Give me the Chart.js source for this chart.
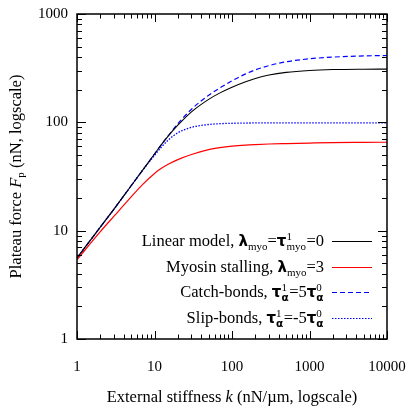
<!DOCTYPE html>
<html><head><meta charset="utf-8">
<script src="https://cdn.jsdelivr.net/npm/chart.js@4.4.1/dist/chart.umd.min.js"></script>
<style>html,body{margin:0;padding:0;background:#fff;}#wrap{width:412px;height:413px;}</style>
</head><body><div id="wrap"><canvas id="c" width="412" height="413"></canvas></div>
<script>
// External stiffness k (nN/µm)
const stiffness    = [1, 2, 3, 5, 7, 10, 12, 15, 20, 30, 50, 70, 100, 150, 200, 300, 500, 1000, 2000, 5000, 10000];
// Plateau force F_p (nN)
const linearModel  = [5.6, 10.8, 15.8, 26, 36, 51, 61, 74.5, 94, 125, 163, 187, 211, 237, 254, 273, 289, 301, 307, 309.5, 310];
const myosinStall  = [5.4, 9.8, 13.6, 20.5, 26.6, 33.7, 37.2, 41, 45.3, 50.5, 56, 58.4, 60.2, 61.6, 62.3, 63.1, 63.7, 64.4, 65, 65.3, 65.5];
const catchBonds   = [5.6, 10.8, 15.8, 26, 36, 51, 61, 75, 97, 132, 178, 208, 242, 280, 305, 334, 362, 386, 400, 410, 414];
const slipBonds    = [5.6, 10.8, 15.8, 26, 36, 49.5, 58, 68.5, 80, 90, 95.5, 97.2, 98, 98.5, 98.7, 98.8, 99, 99, 99, 99, 99];
const xMajorTicks  = [1, 10, 100, 1000, 10000];
const yMajorTicks  = [1, 10, 100, 1000];
const minorSteps   = [2, 3, 4, 5, 6, 7, 8, 9];

const SERIF = '"Liberation Serif", "Times New Roman", serif';
const S  = '16.5px ' + SERIF;
const SI = 'italic 16.5px ' + SERIF;
const s  = '11px ' + SERIF;
const G  = 'bold 15px "DejaVu Sans"';
const g  = 'bold 10.5px "DejaVu Sans"';

function pts(arr){ return stiffness.map((k,i)=>({x:k, y:arr[i]})); }

function partWidth(ctx, p){
  if (p.sup || p.sub){
    let w = 0;
    if (p.sup){ ctx.font = p.sup.f; w = Math.max(w, ctx.measureText(p.sup.t).width); }
    if (p.sub){ ctx.font = p.sub.f; w = Math.max(w, ctx.measureText(p.sub.t).width); }
    return w + 0.5;
  }
  ctx.font = p.f; return ctx.measureText(p.t).width;
}
function drawParts(ctx, parts, x, y){
  for (const p of parts){
    const w = partWidth(ctx, p);
    if (p.sup || p.sub){
      if (p.sup){ ctx.font = p.sup.f; ctx.fillText(p.sup.t, x, y - 6.5); }
      if (p.sub){ ctx.font = p.sub.f; ctx.fillText(p.sub.t, x, y + 4); }
    } else {
      ctx.font = p.f; ctx.fillText(p.t, x, y + (p.dy || 0));
    }
    x += w;
  }
}
function totalWidth(ctx, parts){ return parts.reduce((a,p)=>a+partWidth(ctx,p),0); }

const legendRows = [
  {parts:[{t:'Linear model, ',f:S},{t:'λ',f:G},{t:'myo',f:s,dy:4},{t:'=',f:S},{t:'τ',f:G},{sup:{t:'1',f:s},sub:{t:'myo',f:s}},{t:'=0',f:S}], color:'#000000', dash:[]},
  {parts:[{t:'Myosin stalling, ',f:S},{t:'λ',f:G},{t:'myo',f:s,dy:4},{t:'=3',f:S}], color:'#ff0000', dash:[]},
  {parts:[{t:'Catch-bonds, ',f:S},{t:'τ',f:G},{sup:{t:'1',f:s},sub:{t:'α',f:g}},{t:'=5',f:S},{t:'τ',f:G},{sup:{t:'0',f:s},sub:{t:'α',f:g}}], color:'#0000ff', dash:[5,3]},
  {parts:[{t:'Slip-bonds, ',f:S},{t:'τ',f:G},{sup:{t:'1',f:s},sub:{t:'α',f:g}},{t:'=-5',f:S},{t:'τ',f:G},{sup:{t:'0',f:s},sub:{t:'α',f:g}}], color:'#0000ff', dash:[1.5,1.5]}
];

const frame = {
  id:'frame',
  afterDraw(chart){
    const {ctx, chartArea:a, scales:{x, y}} = chart;
    ctx.save();
    ctx.strokeStyle = '#000'; ctx.lineWidth = 1; ctx.setLineDash([]);
    const tick = (px, horiz, len) => {
      ctx.beginPath();
      if (horiz){
        ctx.moveTo(px, a.bottom); ctx.lineTo(px, a.bottom - len);
        ctx.moveTo(px, a.top); ctx.lineTo(px, a.top + len);
      } else {
        ctx.moveTo(a.left, px); ctx.lineTo(a.left + len, px);
        ctx.moveTo(a.right, px); ctx.lineTo(a.right - len, px);
      }
      ctx.stroke();
    };
    for (const v of xMajorTicks){
      tick(Math.round(x.getPixelForValue(v)) + 0.5, true, 8);
      if (v < 10000) for (const m of minorSteps) tick(Math.round(x.getPixelForValue(v*m)) + 0.5, true, 4.5);
    }
    for (const v of yMajorTicks){
      tick(Math.round(y.getPixelForValue(v)) + 0.5, false, 9);
      if (v < 1000) for (const m of minorSteps) tick(Math.round(y.getPixelForValue(v*m)) + 0.5, false, 5);
    }
    ctx.lineWidth = 1.5;
    ctx.strokeRect(a.left, a.top, a.right - a.left, a.bottom - a.top);

    // legend
    ctx.fillStyle = '#000'; ctx.textBaseline = 'alphabetic'; ctx.textAlign = 'left';
    const rowY = [241, 267, 292, 318];
    legendRows.forEach((r, i) => {
      const yy = rowY[i];
      const w = totalWidth(ctx, r.parts);
      drawParts(ctx, r.parts, 324 - w, yy + 5);
      ctx.strokeStyle = r.color; ctx.lineWidth = 1.2; ctx.setLineDash(r.dash);
      ctx.beginPath(); ctx.moveTo(332, yy + 0.5); ctx.lineTo(372, yy + 0.5); ctx.stroke();
    });
    ctx.setLineDash([]);

    // x title
    const xt = [{t:'External stiffness ',f:S},{t:'k',f:SI},{t:' (nN/µm, logscale)',f:S}];
    const xw = totalWidth(ctx, xt);
    drawParts(ctx, xt, (a.left + a.right)/2 - xw/2, 402);
    // y title
    const yt = [{t:'Plateau force ',f:S},{t:'F',f:SI},{t:'p',f:s,dy:3},{t:' (nN, logscale)',f:S}];
    const yw = totalWidth(ctx, yt);
    ctx.translate(21, (a.top + a.bottom)/2);
    ctx.rotate(-Math.PI/2);
    drawParts(ctx, yt, -yw/2, 0);
    ctx.restore();
  }
};

new Chart(document.getElementById('c'), {
  type:'line',
  data:{ datasets:[
    {label:'Linear model', data:pts(linearModel), borderColor:'#000000', borderWidth:1.1},
    {label:'Myosin stalling', data:pts(myosinStall), borderColor:'#ff0000', borderWidth:1.2},
    {label:'Catch-bonds', data:pts(catchBonds), borderColor:'#0000ff', borderWidth:1.2, borderDash:[5,3]},
    {label:'Slip-bonds', data:pts(slipBonds), borderColor:'#0000ff', borderWidth:1.3, borderDash:[1.5,1.5]}
  ]},
  options:{
    responsive:false, animation:false, events:[],
    elements:{point:{radius:0}, line:{cubicInterpolationMode:'monotone', fill:false}},
    layout:{padding:{left:10, right:25, top:14, bottom:0}},
    plugins:{legend:{display:false}, tooltip:{enabled:false}},
    scales:{
      x:{type:'logarithmic', min:1, max:10000,
         grid:{display:false, drawTicks:false}, border:{display:false},
         afterBuildTicks:sc=>{ sc.ticks = xMajorTicks.map(v=>({value:v, major:true})); },
         afterFit:sc=>{ sc.height = 74; sc.paddingLeft = 0; sc.paddingRight = 0; sc.paddingTop = 0; sc.paddingBottom = 0; },
         ticks:{font:{family:SERIF, size:15}, color:'#000', padding:19, maxRotation:0, autoSkip:false, callback:v=>String(v)}},
      y:{type:'logarithmic', min:1, max:1000,
         grid:{display:false, drawTicks:false}, border:{display:false},
         afterBuildTicks:sc=>{ sc.ticks = yMajorTicks.map(v=>({value:v, major:true})); },
         afterFit:sc=>{ sc.width = 67; sc.paddingLeft = 0; sc.paddingRight = 0; sc.paddingTop = 0; sc.paddingBottom = 0; },
         ticks:{font:{family:SERIF, size:15}, color:'#000', padding:9, autoSkip:false, callback:v=>String(v)}}
    }
  },
  plugins:[frame]
});
</script></body></html>
